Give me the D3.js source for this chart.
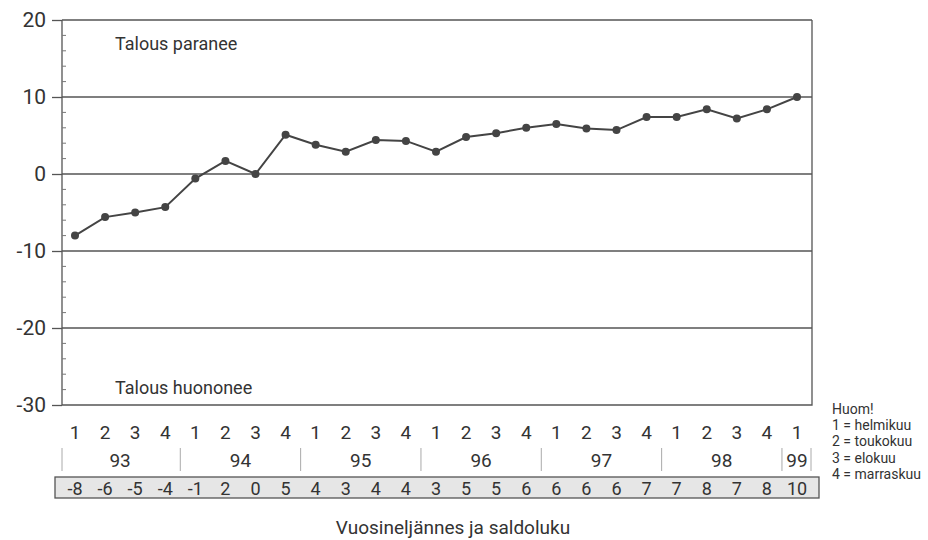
<!DOCTYPE html>
<html><head><meta charset="utf-8">
<script src="https://cdn.jsdelivr.net/npm/d3@7"></script>
<style>
body{margin:0;background:#fff;}
text{font-family:"Roboto",sans-serif;fill:#333;}
</style></head>
<body><svg id="c" width="928" height="540"></svg>
<script>
const quarters = ["1","2","3","4","1","2","3","4","1","2","3","4","1","2","3","4","1","2","3","4","1","2","3","4","1"];
const years = ["93","94","95","96","97","98","99"];
const yearQuarterCounts = [4,4,4,4,4,4,1];
const values = [-8.0,-5.6,-5.0,-4.3,-0.6,1.7,0.0,5.1,3.8,2.9,4.4,4.3,2.9,4.8,5.3,6.0,6.5,5.9,5.7,7.4,7.4,8.4,7.2,8.4,10.0];
const saldo = ["-8","-6","-5","-4","-1","2","0","5","4","3","4","4","3","5","5","6","6","6","6","7","7","8","7","8","10"];
const yTicks = [20,10,0,-10,-20,-30];
const legendLines = ["Huom!","1 = helmikuu","2 = toukokuu","3 = elokuu","4 = marraskuu"];
const labelTop = "Talous paranee", labelBottom = "Talous huononee";
const xTitle = "Vuosineljännes ja saldoluku";

const svg = d3.select("#c");
const L=62, R=812, T=20, B=405;
const y = d3.scaleLinear().domain([-30,20]).range([B,T]);
const x = d3.scaleLinear().domain([0,24]).range([75,797]);
const step = x(1)-x(0);
const ink="#444";

// gridlines
svg.append("g").selectAll("line").data(yTicks.filter(v=>v>-30)).join("line")
  .attr("x1",L).attr("x2",R).attr("y1",d=>y(d)).attr("y2",d=>y(d))
  .attr("stroke","#555").attr("stroke-width",1.3);
// frame
svg.append("path").attr("d",`M${L},${T}V${B}H${R}V${T}`).attr("fill","none").attr("stroke","#555").attr("stroke-width",1.3);
// left axis
const ax = d3.axisLeft(y).tickValues(yTicks).tickSize(10).tickFormat(d=>String(d));
const g = svg.append("g").attr("transform",`translate(${L},0)`).call(ax);
g.select(".domain").remove();
g.selectAll(".tick line").attr("stroke","#555").attr("stroke-width",1.3);
g.selectAll(".tick text").attr("x",-16).style("font-size","21px").attr("fill","#333");
// minor ticks inward
const minor = d3.range(-28,20,2).filter(v=>v%10!==0);
svg.append("g").selectAll("line").data(minor).join("line")
  .attr("x1",L).attr("x2",L+4).attr("y1",d=>y(d)).attr("y2",d=>y(d))
  .attr("stroke","#777").attr("stroke-width",1);

// labels in plot
svg.append("text").attr("x",115).attr("y",50).style("font-size","18px").text(labelTop);
svg.append("text").attr("x",115).attr("y",394).style("font-size","18px").text(labelBottom);

// line & points
const line = d3.line().x((d,i)=>x(i)).y(d=>y(d));
svg.append("path").datum(values).attr("d",line).attr("fill","none").attr("stroke",ink).attr("stroke-width",2);
svg.append("g").selectAll("circle").data(values).join("circle")
  .attr("cx",(d,i)=>x(i)).attr("cy",d=>y(d)).attr("r",4).attr("fill",ink);

// quarter labels
svg.append("g").selectAll("text").data(quarters).join("text")
  .attr("x",(d,i)=>x(i)).attr("y",439).attr("text-anchor","middle").style("font-size","19px").text(d=>d);

// year separators & labels
let start=0; const seps=[];
years.forEach((yr,k)=>{
  const n=yearQuarterCounts[k];
  seps.push(k===0? L : x(start)-step/2);
  svg.append("text").attr("x",(x(start)+x(start+n-1))/2).attr("y",467).attr("text-anchor","middle").style("font-size","19px").text(yr);
  start+=n;
});
seps.push(R-1);
svg.append("g").selectAll("line").data(seps).join("line")
  .attr("x1",d=>d).attr("x2",d=>d).attr("y1",448).attr("y2",471)
  .attr("stroke","#aaa").attr("stroke-width",1);

// saldo box
svg.append("rect").attr("x",55).attr("y",477).attr("width",764).attr("height",21)
  .attr("fill","#e6e6e6").attr("stroke","#555").attr("stroke-width",1.3);
svg.append("g").selectAll("text").data(saldo).join("text")
  .attr("x",(d,i)=>x(i)).attr("y",494.5).attr("text-anchor","middle").style("font-size","18px").text(d=>d);

// x title
svg.append("text").attr("x",453).attr("y",534).attr("text-anchor","middle").style("font-size","19px").text(xTitle);

// legend
svg.append("g").selectAll("text").data(legendLines).join("text")
  .attr("x",832).attr("y",(d,i)=>414+i*16.2).style("font-size","14px").attr("fill","#444").text(d=>d);
</script></body></html>
